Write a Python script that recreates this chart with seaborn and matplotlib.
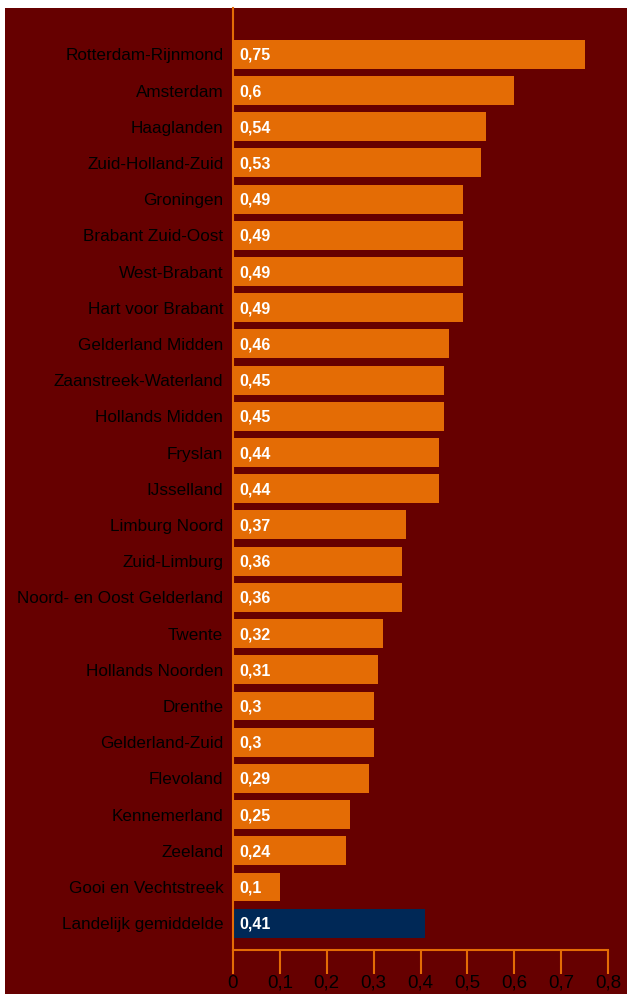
import matplotlib
matplotlib.use("Agg")
import matplotlib.pyplot as plt
import matplotlib.patches as mpatches
import seaborn as sns
import pandas as pd

regions = [
    "Rotterdam-Rijnmond", "Amsterdam", "Haaglanden", "Zuid-Holland-Zuid",
    "Groningen", "Brabant Zuid-Oost", "West-Brabant", "Hart voor Brabant",
    "Gelderland Midden", "Zaanstreek-Waterland", "Hollands Midden", "Fryslan",
    "IJsselland", "Limburg Noord", "Zuid-Limburg", "Noord- en Oost Gelderland",
    "Twente", "Hollands Noorden", "Drenthe", "Gelderland-Zuid", "Flevoland",
    "Kennemerland", "Zeeland", "Gooi en Vechtstreek", "Landelijk gemiddelde",
]
values = [
    0.75, 0.60, 0.54, 0.53, 0.49, 0.49, 0.49, 0.49, 0.46, 0.45, 0.45, 0.44,
    0.44, 0.37, 0.36, 0.36, 0.32, 0.31, 0.30, 0.30, 0.29, 0.25, 0.24, 0.10,
    0.41,
]
x_ticks = [0, 0.1, 0.2, 0.3, 0.4, 0.5, 0.6, 0.7, 0.8]

BG = "#660000"
ORANGE = "#E46C05"
NAVY = "#002856"

sns.set_theme(style="white")
plt.rcParams["font.family"] = ["Liberation Sans", "DejaVu Sans"]

df = pd.DataFrame({"region": regions, "value": values})
df["kind"] = ["regio"] * (len(regions) - 1) + ["landelijk"]

fig = plt.figure(figsize=(6.27, 9.94), dpi=100, facecolor="white")
fig.patches.append(mpatches.Rectangle((5 / 627, 0), 1 - 5 / 627, 1 - 8 / 994,
                                      transform=fig.transFigure, facecolor=BG,
                                      edgecolor="none", zorder=-10))
ax = fig.add_axes([233 / 627, 44 / 994, 375 / 627, 942 / 994])
ax.set_facecolor(BG)

sns.barplot(data=df, x="value", y="region", hue="kind",
            palette={"regio": ORANGE, "landelijk": NAVY},
            width=0.8, dodge=False, legend=False, saturation=1,
            linewidth=0, ax=ax)

for i, v in enumerate(values):
    ax.text(0.013, i + 0.03, f"{v:g}".replace(".", ","), color="white",
            fontsize=11.5, fontweight="bold", va="center", ha="left")

ax.set_xlim(0, 0.8)
ax.set_ylim(24.74, -1.28)
ax.set_xticks(x_ticks)
ax.set_xticklabels([f"{t:g}".replace(".", ",") for t in x_ticks],
                   color="black", fontsize=13.5)
ax.tick_params(axis="x", colors=ORANGE, length=17, width=1.5, pad=1,
               labelcolor="black", direction="out", bottom=True)
ax.tick_params(axis="y", length=0, pad=7, labelsize=12.3, labelcolor="black")
ax.set_xlabel("")
ax.set_ylabel("")

for side in ["top", "right"]:
    ax.spines[side].set_visible(False)
for side in ["left", "bottom"]:
    ax.spines[side].set_color(ORANGE)
    ax.spines[side].set_linewidth(1.5)
    ax.spines[side].set_visible(True)

fig.savefig("out.png", dpi=100, facecolor=fig.get_facecolor())
